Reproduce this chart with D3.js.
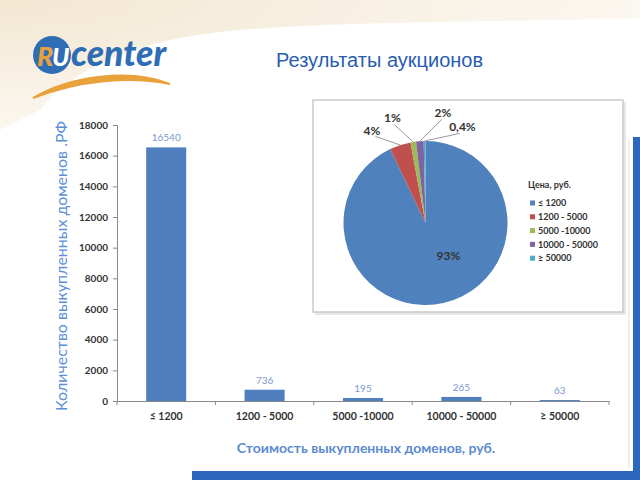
<!DOCTYPE html>
<html><head><meta charset="utf-8">
<script src="https://cdn.jsdelivr.net/npm/d3@7"></script>
<style>body{margin:0;background:#fff}svg{display:block}</style>
</head><body>
<svg id="c" width="640" height="480"></svg>
<script>
const categories = ["≤ 1200", "1200 - 5000", "5000 -10000", "10000 - 50000", "≥ 50000"];
const counts = [16540, 736, 195, 265, 63];
const pieLabels = ["93%", "4%", "1%", "2%", "0,4%"];
const yTicks = [0, 2000, 4000, 6000, 8000, 10000, 12000, 14000, 16000, 18000];
const pieColors = ["#4f81bd", "#c0504d", "#9bbb59", "#8064a2", "#4bacc6"];
const title = "Результаты аукционов";
const yTitle = "Количество выкупленных доменов .РФ";
const xTitle = "Стоимость выкупленных доменов, руб.";
const legendTitle = "Цена, руб.";

const svg = d3.select("#c");
const F = "Lato, 'Open Sans', sans-serif";

// background decoration (beige top-left)
const defs = svg.append("defs");
const g1 = defs.append("radialGradient").attr("id","bg").attr("cx","0").attr("cy","0").attr("r","1");
g1.append("stop").attr("offset","0").attr("stop-color","#f1e4cc");
g1.append("stop").attr("offset","1").attr("stop-color","#fbf7ef");
svg.append("rect").attr("width",640).attr("height",480).attr("fill","#fff");
svg.append("path").attr("d","M0,0 H640 V18 C520,22 360,20 240,30 C150,38 80,60 40,110 L0,130 Z").attr("fill","url(#bg)").attr("opacity",0.9);

// logo
const logo = svg.append("g");
logo.append("path").attr("d","M33,98 C70,76 130,68 170,84 C130,76 80,80 33,98 Z").attr("fill","#e9a23b").attr("stroke","#e9a23b").attr("stroke-width",2);
logo.append("circle").attr("cx",52).attr("cy",55).attr("r",19).attr("fill","#2f6db5");
logo.append("text").attr("x",37).attr("y",66).attr("font-family",F).attr("font-style","italic").attr("font-weight",900).attr("font-size",27).attr("fill","#e9a23b").text("R");
logo.append("text").attr("x",52).attr("y",66).attr("font-family",F).attr("font-style","italic").attr("font-weight",900).attr("font-size",25).attr("fill","#fff").text("U");
logo.append("text").attr("x",71).attr("y",66).attr("font-family",F).attr("font-style","italic").attr("font-weight",900).attr("font-size",35.5).attr("fill","#2f6db5").text("center");

svg.append("text").attr("x",276).attr("y",67).attr("font-family","'Liberation Sans', Arial, sans-serif").attr("font-size",20).attr("fill","#2a5db0").text(title);

// blue frame
svg.append("rect").attr("x",633).attr("y",137).attr("width",7).attr("height",343).attr("fill","#2d66bd");
svg.append("rect").attr("x",192).attr("y",471).attr("width",448).attr("height",9).attr("fill","#2d66bd");
svg.append("line").attr("x1",629).attr("x2",629).attr("y1",140).attr("y2",468).attr("stroke","#ddd").attr("stroke-width",1);

// bar chart
const x = d3.scaleBand().domain(categories).range([117, 609]).paddingInner(0.593).paddingOuter(0.2965);
const y = d3.scaleLinear().domain([0, 18000]).range([401, 125]);

const yAx = svg.append("g").attr("transform","translate(117,0)")
  .call(d3.axisLeft(y).tickValues(yTicks).tickFormat(d3.format("d")).tickSize(4).tickPadding(5));
yAx.select(".domain").attr("stroke","#888");
yAx.selectAll(".tick line").attr("stroke","#888");
yAx.selectAll("text").attr("font-family",F).attr("font-weight",700).attr("font-size",10).attr("fill","#333");

const xAx = svg.append("g").attr("transform","translate(0,401)")
  .call(d3.axisBottom(x).tickSize(0).tickPadding(12));
xAx.select(".domain").attr("stroke","#888");
xAx.selectAll("text").attr("font-family",F).attr("font-weight",700).attr("font-size",10.5).attr("fill","#333");
const step = x.step();
const bounds = categories.map(c => x(c) - (step - x.bandwidth())/2).concat([x(categories[4]) + x.bandwidth() + (step - x.bandwidth())/2]);
svg.append("g").selectAll("line").data(bounds).join("line")
  .attr("x1",d=>d).attr("x2",d=>d).attr("y1",401).attr("y2",405).attr("stroke","#888");

svg.append("g").selectAll("rect").data(counts).join("rect")
  .attr("x",(d,i)=>x(categories[i])).attr("width",x.bandwidth())
  .attr("y",d=>y(d)).attr("height",d=>y(0)-y(d)).attr("fill","#4f7fbf");
svg.append("g").selectAll("text").data(counts).join("text")
  .attr("x",(d,i)=>x(categories[i])+x.bandwidth()/2).attr("y",d=>y(d)-6)
  .attr("text-anchor","middle").attr("font-family",F).attr("font-size",10).attr("fill","#7b98d0").text(d=>d);

svg.append("text").attr("x",366).attr("y",453).attr("text-anchor","middle")
  .attr("font-family",F).attr("font-weight",700).attr("font-size",14).attr("fill","#5b8bd0").text(xTitle);
svg.append("text").attr("transform","translate(67,266) rotate(-90)").attr("text-anchor","middle")
  .attr("font-family",F).attr("font-size",16).attr("fill","#5b8fd6").text(yTitle);

// pie box
svg.append("rect").attr("x",315).attr("y",102).attr("width",311).attr("height",213).attr("fill","#e6e6e6");
svg.append("rect").attr("x",313).attr("y",100).attr("width",310).attr("height",212).attr("fill","#fff").attr("stroke","#c9c9c9").attr("stroke-width",1.5);

const cx = 425.5, cy = 223, R = 82;
const pie = d3.pie().sort(null).value(d=>d)(counts);
const arc = d3.arc().innerRadius(0).outerRadius(R);
const pg = svg.append("g").attr("transform",`translate(${cx},${cy})`);
pg.selectAll("path").data(pie).join("path").attr("d",arc).attr("fill",(d,i)=>pieColors[i]);

// label layout (angle in degrees clockwise from top, radius)
const labelPos = [[145, 40], [-30, 107], [-17.5, 110], [9, 112], [21, 103]];
const pol = (a, r) => [Math.sin(a*Math.PI/180)*r, -Math.cos(a*Math.PI/180)*r];
pie.forEach((d,i) => {
  const [lx, ly] = pol(labelPos[i][0], labelPos[i][1]);
  if (i > 0) {
    const mid = (d.startAngle + d.endAngle)/2 * 180/Math.PI;
    const [ax, ay] = pol(mid, R);
    const [ex, ey] = pol(labelPos[i][0], labelPos[i][1]-7);
    pg.append("polyline").attr("points",`${ax},${ay} ${ex},${ey}`).attr("fill","none").attr("stroke","#9a9a9a").attr("stroke-width",1);
  }
  pg.append("text").attr("x",lx).attr("y",ly).attr("text-anchor","middle").attr("dy","0.35em")
    .attr("font-family",F).attr("font-weight",700).attr("font-size",12).attr("fill","#333").text(pieLabels[i]);
});

// legend
const lg = svg.append("g").attr("transform","translate(528,185)");
lg.append("text").attr("x",0).attr("y",0).attr("dy","0.35em").attr("font-family",F).attr("font-weight",700).attr("font-size",9).attr("fill","#333").text(legendTitle);
const li = lg.selectAll("g.i").data(categories).join("g").attr("class","i").attr("transform",(d,i)=>`translate(2,${18+i*13.8})`);
li.append("rect").attr("x",0).attr("y",-2.5).attr("width",5).attr("height",5).attr("fill",(d,i)=>pieColors[i]);
li.append("text").attr("x",8).attr("dy","0.35em").attr("font-family",F).attr("font-weight",700).attr("font-size",9).attr("fill","#333").text(d=>d);
</script>
</body></html>
